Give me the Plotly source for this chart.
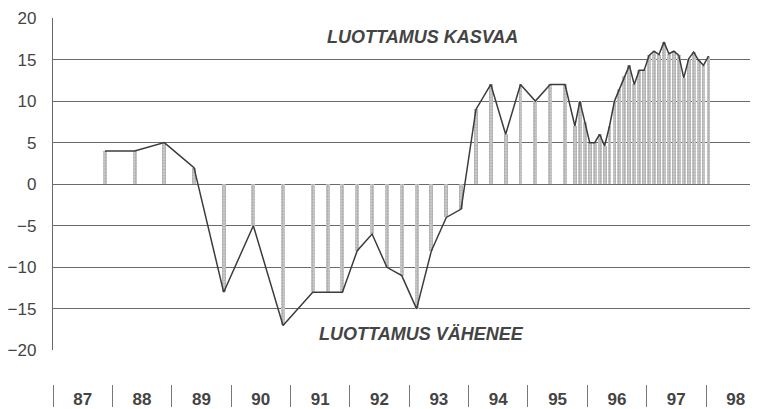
import plotly.graph_objects as go

# Survey periods (year, month) and consumer confidence balance values
years = [1987, 1988, 1988, 1989, 1989, 1990, 1990, 1991, 1991, 1991,
         1992, 1992, 1992, 1992, 1993, 1993, 1993, 1993,
         1994, 1994, 1994, 1994, 1995, 1995, 1995,
         1995, 1995, 1995,
         1996, 1996, 1996, 1996, 1996, 1996, 1996, 1996, 1996, 1996, 1996, 1996,
         1997, 1997, 1997, 1997, 1997, 1997, 1997, 1997, 1997, 1997, 1997, 1997,
         1998]
months = [11, 5, 11, 5, 11, 5, 11, 5, 8, 11,
          2, 5, 8, 11, 2, 5, 8, 11,
          2, 5, 8, 11, 2, 5, 8,
          10, 11, 12,
          1, 2, 3, 4, 5, 6, 7, 8, 9, 10, 11, 12,
          1, 2, 3, 4, 5, 6, 7, 8, 9, 10, 11, 12,
          1]
values = [4, 4, 5, 2, -13, -5, -17, -13, -13, -13,
          -8, -6, -10, -11, -15, -8, -4, -3,
          9, 12, 6, 12, 10, 12, 12,
          7, 10, 7.5,
          5, 5, 6, 4.6, 7, 10, 11.5, 13, 14.3, 12, 13.7, 13.7,
          15.5, 16, 15.6, 17.1, 15.7, 16, 15.5, 12.8, 15.1, 15.9, 14.9, 14.3,
          15.4]

year_labels = ["87", "88", "89", "90", "91", "92", "93", "94", "95", "96", "97", "98"]
y_ticks = [20, 15, 10, 5, 0, -5, -10, -15, -20]
text_up = "LUOTTAMUS KASVAA"
text_down = "LUOTTAMUS VÄHENEE"

# position on a numeric axis in two-digit years (mid-month)
xs = [(y - 1900) + (m - 0.5) / 12 for y, m in zip(years, months)]
label_pos = [int(l) + 0.5 for l in year_labels]

FONT = "Liberation Sans, Arial, sans-serif"
INK = "#3c3c3c"
GRID = "#6a6a6a"

fig = go.Figure()
fig.add_trace(go.Bar(
    x=xs, y=values, width=0.066,
    marker=dict(color="#b8b8b8", line=dict(width=0),
                pattern=dict(shape=".", fgcolor="#8c8c8c", bgcolor="#cdcdcd",
                             size=3, solidity=0.45)),
    showlegend=False, hoverinfo="skip",
))
fig.add_trace(go.Scatter(
    x=xs, y=values, mode="lines",
    line=dict(color=INK, width=1.5),
    showlegend=False,
))

fig.add_annotation(x=93.22, y=17.7, text="<b><i>" + text_up + "</i></b>",
                   showarrow=False, font=dict(family=FONT, size=18, color="#444"))
fig.add_annotation(x=93.2, y=-18.0, text="<b><i>" + text_down + "</i></b>",
                   showarrow=False, font=dict(family=FONT, size=18, color="#444"))

# page body has an 8px default margin, so the figure is sized to fill the
# remaining 750x401 of the 758x409 window
fig.update_layout(
    width=750, height=401,
    margin=dict(l=41, r=0, t=10, b=21),
    paper_bgcolor="white", plot_bgcolor="white",
    bargap=0,
    xaxis=dict(
        range=[87, 98.876], anchor="free", position=0,
        showgrid=False, zeroline=False, showline=False,
        tickmode="array", tickvals=label_pos, ticktext=year_labels,
        ticks="", ticklabelstandoff=3,
        tickfont=dict(family=FONT, size=17, color="#444", weight="bold"),
        minor=dict(tickmode="array", tickvals=list(range(87, 99)),
                   ticks="outside", ticklen=22, tickwidth=1, tickcolor="#777"),
    ),
    yaxis=dict(
        range=[-20, 20], domain=[(388 - 354) / 370, 1],
        tickmode="array", tickvals=y_ticks,
        showgrid=True, gridcolor=GRID, gridwidth=1.3,
        zeroline=False, showline=True, linecolor=GRID, linewidth=1.3,
        ticks="outside", ticklen=12, tickcolor="rgba(0,0,0,0)",
        tickfont=dict(family=FONT, size=17, color="#444"),
    ),
)

fig.write_html("out.html")
